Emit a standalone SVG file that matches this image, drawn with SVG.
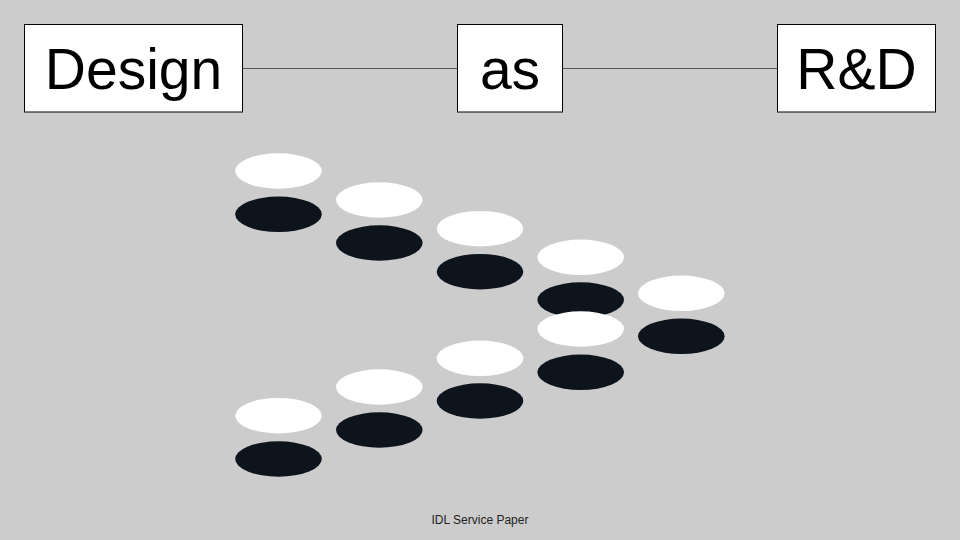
<svg xmlns="http://www.w3.org/2000/svg" width="960" height="540" viewBox="0 0 960 540">
<style>
.box{fill:#ffffff;stroke:#000000;stroke-width:1}
.lbl{font-family:"Liberation Sans",Arial,sans-serif;font-size:57px;fill:#000000;text-anchor:middle}
.w{fill:#ffffff}
.b{fill:#0d141c}
.conn{stroke:#555555;stroke-width:1;fill:none}
.foot{font-family:"Liberation Sans",Arial,sans-serif;font-size:12px;fill:#222222;text-anchor:middle}
</style>
<rect x="0" y="0" width="960" height="540" fill="#cccccc"/>
<g id="connectors">
<line class="conn" x1="242.5" y1="68.5" x2="457.5" y2="68.5"/>
<line class="conn" x1="562.5" y1="68.5" x2="777.5" y2="68.5"/>
</g>
<g id="node-design">
<rect class="box" x="24.5" y="24.5" width="218" height="87.5"/>
<text class="lbl" x="133.5" y="88.5">Design</text>
</g>
<g id="node-as">
<rect class="box" x="457.5" y="24.5" width="105" height="87.5"/>
<text class="lbl" x="510" y="88.5">as</text>
</g>
<g id="node-rd">
<rect class="box" x="777.5" y="24.5" width="158" height="87.5"/>
<text class="lbl" x="856.5" y="88.5">R&amp;D</text>
</g>
<g id="ellipses">
<ellipse class="w" cx="278.5" cy="171" rx="43.3" ry="17.7"/>
<ellipse class="b" cx="278.5" cy="214.3" rx="43.3" ry="17.7"/>
<ellipse class="w" cx="379.3" cy="200" rx="43.3" ry="17.7"/>
<ellipse class="b" cx="379.3" cy="243" rx="43.3" ry="17.7"/>
<ellipse class="w" cx="480" cy="228.7" rx="43.3" ry="17.7"/>
<ellipse class="b" cx="480" cy="271.7" rx="43.3" ry="17.7"/>
<ellipse class="w" cx="580.7" cy="257.3" rx="43.3" ry="17.7"/>
<ellipse class="b" cx="580.7" cy="300" rx="43.3" ry="17.7"/>
<ellipse class="w" cx="681.3" cy="293.3" rx="43.3" ry="17.7"/>
<ellipse class="b" cx="681.3" cy="336.3" rx="43.3" ry="17.7"/>
<ellipse class="w" cx="580.7" cy="329" rx="43.3" ry="17.7"/>
<ellipse class="b" cx="580.7" cy="372.3" rx="43.3" ry="17.7"/>
<ellipse class="w" cx="480" cy="358.3" rx="43.3" ry="17.7"/>
<ellipse class="b" cx="480" cy="401" rx="43.3" ry="17.7"/>
<ellipse class="w" cx="379.3" cy="387" rx="43.3" ry="17.7"/>
<ellipse class="b" cx="379.3" cy="430" rx="43.3" ry="17.7"/>
<ellipse class="w" cx="278.5" cy="415.7" rx="43.3" ry="17.7"/>
<ellipse class="b" cx="278.5" cy="459" rx="43.3" ry="17.7"/>
</g>
<text class="foot" x="480" y="524">IDL Service Paper</text>
</svg>
